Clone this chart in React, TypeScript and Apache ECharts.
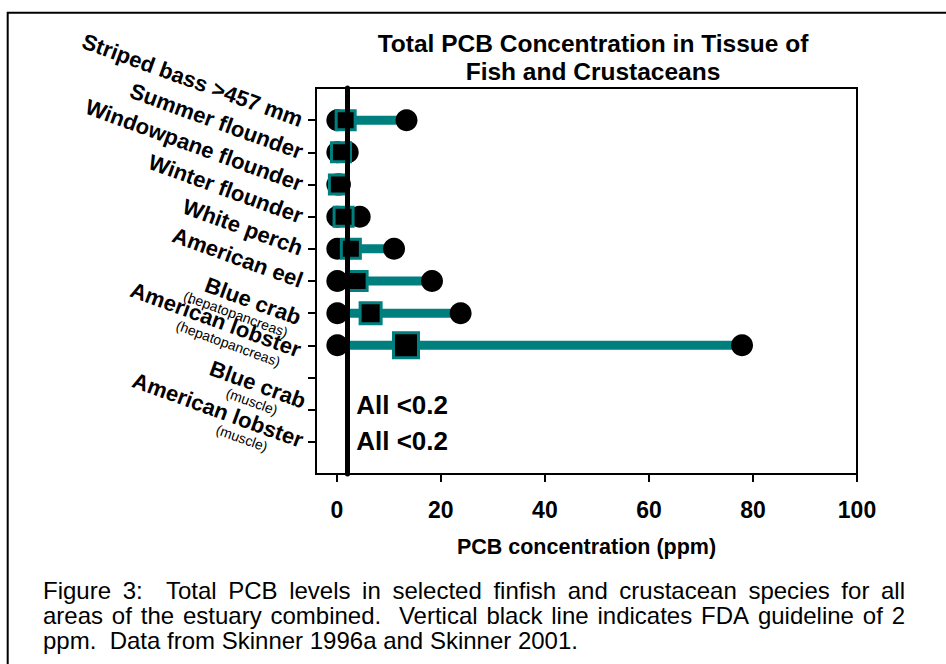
import React, { useEffect, useRef } from "react";
import * as echarts from "echarts";

// ---------- data ----------
const speciesNames = [
  "Striped bass >457 mm",
  "Summer flounder",
  "Windowpane flounder",
  "Winter flounder",
  "White perch",
  "American eel",
  "Blue crab",
  "American lobster",
  "",
  "Blue crab",
  "American lobster",
];
const tissueNotes = ["", "", "", "", "", "", "(hepatopancreas)", "(hepatopancreas)", "", "(muscle)", "(muscle)"];
const minPCB = [0.1, 0.1, 0.1, 0.1, 0.1, 0.1, 0.1, 0.1];
const meanPCB = [1.7, 0.8, 0.4, 1.3, 2.7, 4.0, 6.5, 13.3];
const maxPCB = [13.4, 2.1, 0.6, 4.4, 11.0, 18.3, 23.8, 77.9];
const belowDetectionRows = [9, 10];
const belowDetectionText = "All <0.2";
const fdaGuideline = 2;
const xTickValues = [0, 20, 40, 60, 80, 100];
const titleText = "Total PCB Concentration in Tissue of\nFish and Crustaceans";
const xAxisName = "PCB concentration (ppm)";
const captionLines = [
  "Figure 3:  Total PCB levels in selected finfish and crustacean species for all",
  "areas of the estuary combined.  Vertical black line indicates FDA guideline of 2",
  "ppm.  Data from Skinner 1996a and Skinner 2001.",
];
const captionJustified = [true, true, false];

// ---------- styling ----------
const TEAL = "#007f7f";
const FONT = "'Liberation Sans', Arial, sans-serif";
const CAPTION_SIZE = 24;
const CAPTION_LEFT = 43;
const CAPTION_WIDTH = 862;
const meanMarkerSize = [19, 19, 19, 19, 19, 19, 21, 25];
const noteLabelOffsetY = [-5, -1];
const subStyleByRow: Record<number, string> = { 6: "h1", 7: "h2", 9: "m1", 10: "m2" };
const topSpacerByRow: Record<number, string> = { 6: "sp", 7: "sp", 10: "t2" };
const bottomSpacerByRow: Record<number, string> = { 9: "g1" };

const nRows = speciesNames.length; // 11
const catCount = nRows + 2; // padding at both ends
const catKeys = Array.from({ length: catCount }, (_, i) => "c" + i);
const rowToCat = (r: number) => nRows - r; // row 0 (top) -> index 11

function labelFor(index: number): string {
  if (index <= 0 || index >= catCount - 1) return "";
  const r = nRows - index;
  const name = speciesNames[r];
  if (!name) return "";
  const note = tissueNotes[r];
  if (!note) return `{b|${name}}`;
  const parts: string[] = [];
  if (topSpacerByRow[r]) parts.push(`{${topSpacerByRow[r]}| }`);
  parts.push(`{b|${name}}`);
  parts.push(`{${subStyleByRow[r]}|${note}}`);
  if (bottomSpacerByRow[r]) parts.push(`{${bottomSpacerByRow[r]}| }`);
  return parts.join("\n");
}

function justify(line: string, width: number) {
  const ctx = document.createElement("canvas").getContext("2d");
  const words = line.split(" ");
  if (!ctx) return { text: line, gap: 6 };
  ctx.font = `${CAPTION_SIZE}px 'Liberation Sans'`;
  const wordsWidth = words.reduce((s, w) => s + ctx.measureText(w).width, 0);
  const gap = Math.max(2, (width - wordsWidth) / (words.length - 1));
  return { text: words.join("{g| }"), gap };
}

export default function App() {
  const ref = useRef<HTMLDivElement>(null);

  useEffect(() => {
    if (!ref.current) return;
    const chart = echarts.init(ref.current, undefined, { renderer: "svg" });

    const rangeData = maxPCB.map((mx, r) => [minPCB[r], mx, rowToCat(r)]);
    const circleData: number[][] = [];
    minPCB.forEach((mn, r) => {
      circleData.push([mn, rowToCat(r)]);
      circleData.push([maxPCB[r], rowToCat(r)]);
    });
    const meanData = meanPCB.map((m, r) => ({ value: [m, rowToCat(r)], symbolSize: meanMarkerSize[r] }));
    const noteData = belowDetectionRows.map((r, k) => ({
      value: [fdaGuideline, rowToCat(r)],
      label: { offset: [0, noteLabelOffsetY[k]] },
    }));

    const sub = (pr: number) => ({ fontSize: 14, fontWeight: "normal", lineHeight: 14, align: "right", padding: [0, pr, 0, 0], color: "#000", fontFamily: FONT });

    const captionGraphics = captionLines.map((line, i) => {
      if (captionJustified[i]) {
        const j = justify(line, CAPTION_WIDTH);
        return {
          type: "text",
          x: CAPTION_LEFT,
          y: 590 + i * 25,
          style: {
            text: j.text,
            fontSize: CAPTION_SIZE,
            fontFamily: FONT,
            fill: "#000",
            align: "left",
            verticalAlign: "middle",
            rich: { g: { width: j.gap, fontSize: CAPTION_SIZE, fontFamily: FONT } },
          },
        };
      }
      return {
        type: "text",
        x: CAPTION_LEFT,
        y: 590 + i * 25,
        style: { text: line, fontSize: CAPTION_SIZE, fontFamily: FONT, fill: "#000", align: "left", verticalAlign: "middle" },
      };
    });

    chart.setOption({
      animation: false,
      backgroundColor: "#fff",
      textStyle: { fontFamily: FONT },
      grid: { left: 316, top: 88, width: 541, height: 386, show: true, borderColor: "#000", borderWidth: 2, backgroundColor: "transparent" },
      xAxis: {
        type: "value",
        min: -4,
        max: 100,
        name: xAxisName,
        nameLocation: "middle",
        nameGap: 62,
        nameTextStyle: { fontSize: 21.5, fontWeight: "bold", color: "#000", fontFamily: FONT },
        axisLine: { show: true, lineStyle: { color: "#000", width: 2 } },
        axisTick: { show: true, length: 8, lineStyle: { color: "#000", width: 2 }, customValues: xTickValues },
        axisLabel: { fontSize: 23, fontWeight: "bold", color: "#000", margin: 24, fontFamily: FONT, customValues: xTickValues },
        splitLine: { show: false },
      },
      yAxis: {
        type: "category",
        data: catKeys,
        boundaryGap: false,
        axisLine: { show: true, onZero: false, lineStyle: { color: "#000", width: 2 } },
        axisTick: {
          show: true,
          length: 8,
          lineStyle: { color: "#000", width: 2 },
          interval: (i: number) => i > 0 && i < catCount - 1,
        },
        axisLabel: {
          interval: 0,
          rotate: -20,
          margin: 14,
          align: "right",
          verticalAlign: "middle",
          formatter: (_v: string, i: number) => labelFor(i),
          rich: {
            b: { fontSize: 22, fontWeight: "bold", lineHeight: 22, align: "right", color: "#000", fontFamily: FONT },
            sp: { fontSize: 14, lineHeight: 25, align: "right" },
            t2: { fontSize: 12, lineHeight: 12, align: "right" },
            g1: { fontSize: 3, lineHeight: 3, align: "right" },
            h1: sub(7),
            h2: sub(15),
            m1: sub(23),
            m2: sub(31),
          },
        },
        splitLine: { show: false },
      },
      series: [
        {
          type: "scatter",
          data: [],
          silent: true,
          markLine: {
            silent: true,
            symbol: ["none", "none"],
            label: { show: false },
            lineStyle: { color: "#000", width: 5, type: "solid", cap: "round", opacity: 1 },
            data: [{ xAxis: fdaGuideline }],
          },
          z: 1,
        },
        {
          type: "custom",
          data: rangeData,
          encode: { x: [0, 1], y: 2 },
          renderItem: (_p: any, api: any) => {
            const a = api.coord([api.value(0), api.value(2)]);
            const b = api.coord([api.value(1), api.value(2)]);
            return {
              type: "line",
              shape: { x1: a[0], y1: a[1], x2: b[0], y2: b[1] },
              style: { stroke: TEAL, lineWidth: 9 },
            };
          },
          z: 2,
        },
        {
          type: "scatter",
          data: circleData,
          symbol: "circle",
          symbolSize: 22,
          itemStyle: { color: "#000", opacity: 1 },
          z: 3,
        },
        {
          type: "scatter",
          data: meanData,
          symbol: "rect",
          itemStyle: { color: "#000", borderColor: TEAL, borderWidth: 3, opacity: 1 },
          z: 4,
        },
        {
          type: "scatter",
          data: noteData,
          symbolSize: 0,
          itemStyle: { opacity: 1 },
          label: {
            show: true,
            formatter: belowDetectionText,
            position: "right",
            distance: 9,
            fontSize: 26,
            fontWeight: "bold",
            color: "#000",
            fontFamily: FONT,
          },
          z: 5,
        },
      ],
      graphic: [
        {
          type: "rect",
          shape: { x: 7.7, y: 12.7, width: 1200, height: 1200 },
          style: { fill: "none", stroke: "#000", lineWidth: 2 },
          silent: true,
        },
        {
          type: "text",
          x: 593,
          y: 57,
          style: {
            text: titleText,
            fontSize: 24.5,
            fontWeight: "bold",
            fontFamily: FONT,
            fill: "#000",
            align: "center",
            verticalAlign: "middle",
            lineHeight: 28,
          },
        },
        ...captionGraphics,
      ],
    });

    return () => chart.dispose();
  }, []);

  return <div ref={ref} style={{ position: "fixed", left: 0, top: 0, width: 946, height: 664 }} />;
}
